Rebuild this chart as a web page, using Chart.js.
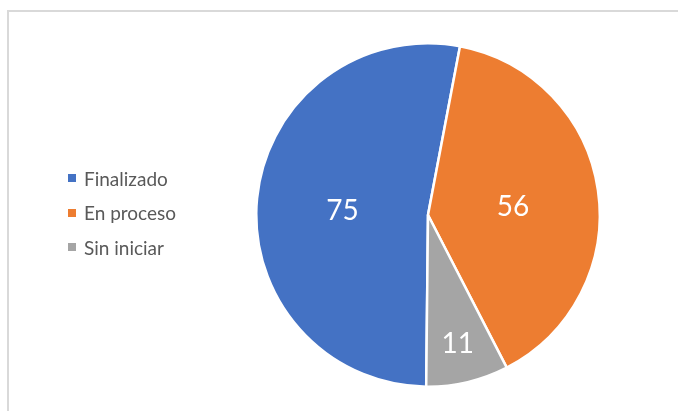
<!DOCTYPE html>
<html lang="es">
<head>
    <meta charset="UTF-8">
    <title>Estado</title>
    <script src="https://cdn.jsdelivr.net/npm/chart.js"></script>
    <style>
        html, body {
            margin: 0;
            padding: 0;
            background: #FFFFFF;
        }
        #wrap {
            position: relative;
            width: 678px;
            height: 411px;
            overflow: hidden;
        }
        #frame {
            position: absolute;
            left: 7px;
            top: 10px;
            width: 680px;
            height: 420px;
            border-top: 2px solid #d9d9d9;
            border-left: 2px solid #d9d9d9;
        }
        #myChart {
            position: absolute;
            left: 0;
            top: 0;
        }
        #legend-container {
            position: absolute;
            left: 68px;
            top: 161px;
            font-family: 'Lato', sans-serif;
            font-size: 19px;
            color: #595959;
        }
        .legend-item {
            display: flex;
            align-items: center;
            height: 34.5px;
        }
        .legend-color {
            width: 8px;
            height: 8px;
            margin-right: 8px;
        }
    </style>
</head>
<body>
<div id="wrap">
    <div id="frame"></div>
    <canvas id="myChart" width="678" height="411"></canvas>
    <div id="legend-container"></div>
</div>

<script>
    var labels = ['Finalizado', 'En proceso', 'Sin iniciar'];
    var values = [75, 56, 11];
    var colors = ['#4472C4', '#ED7D31', '#A5A5A5'];

    // value labels drawn inside the slices (small slices pushed outwards)
    var sliceLabels = {
        id: 'sliceLabels',
        afterDatasetsDraw: function(chart) {
            var ctx = chart.ctx;
            var meta = chart.getDatasetMeta(0);
            var total = values.reduce(function(a, b) { return a + b; }, 0);
            ctx.save();
            ctx.fillStyle = '#FFFFFF';
            ctx.font = '28px Lato';
            ctx.textAlign = 'center';
            ctx.textBaseline = 'middle';
            meta.data.forEach(function(arc, i) {
                var p = arc.getProps(['x', 'y', 'startAngle', 'endAngle', 'outerRadius'], true);
                var mid = (p.startAngle + p.endAngle) / 2;
                var f = values[i] / total < 0.1 ? 0.75 : 0.5;
                var r = p.outerRadius * f;
                ctx.fillText(values[i], p.x + Math.cos(mid) * r, p.y + Math.sin(mid) * r + 4);
            });
            ctx.restore();
        }
    };

    var ctx = document.getElementById('myChart').getContext('2d');
    var myChart = new Chart(ctx, {
        type: 'pie',
        data: {
            labels: labels,
            datasets: [{
                data: values,
                backgroundColor: colors,
                borderColor: '#FFFFFF',
                borderWidth: 2.5,
                hoverOffset: 0
            }]
        },
        options: {
            responsive: false,
            animation: false,
            rotation: 180.6,
            layout: {
                padding: { left: 255, right: 77, top: 42, bottom: 23 }
            },
            plugins: {
                legend: { display: false },
                tooltip: { enabled: false }
            }
        },
        plugins: [sliceLabels]
    });

    // Custom legend
    var legendContainer = document.getElementById('legend-container');
    labels.forEach(function(label, index) {
        var legendItem = document.createElement('div');
        legendItem.classList.add('legend-item');

        var legendColor = document.createElement('div');
        legendColor.classList.add('legend-color');
        legendColor.style.backgroundColor = colors[index];

        var legendLabel = document.createElement('div');
        legendLabel.textContent = label;

        legendItem.appendChild(legendColor);
        legendItem.appendChild(legendLabel);
        legendContainer.appendChild(legendItem);
    });
</script>
</body>
</html>
